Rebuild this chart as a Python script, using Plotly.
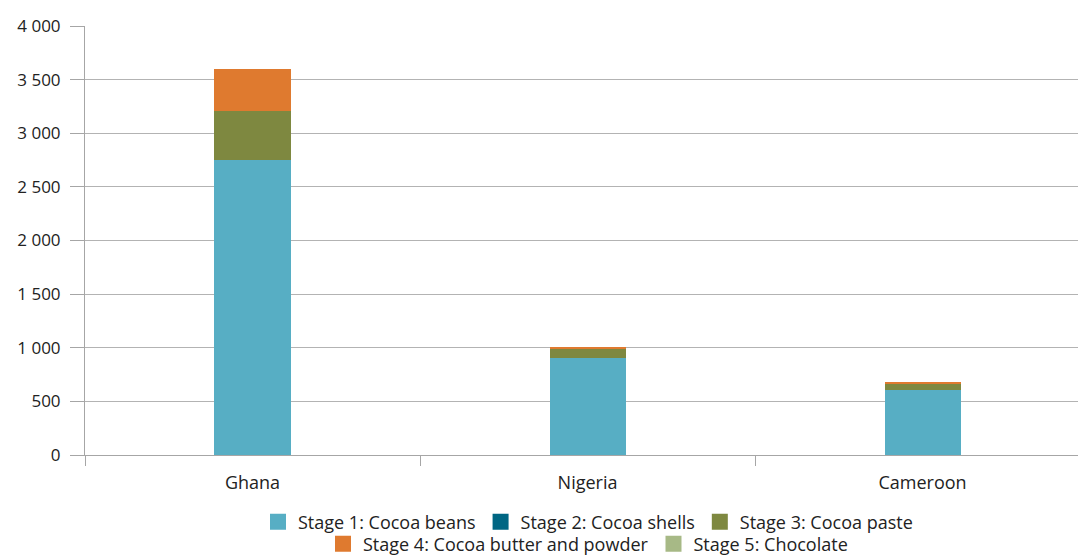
import plotly.graph_objects as go

countries = ["Ghana", "Nigeria", "Cameroon"]

stage1_beans = [2750, 905, 606]
stage2_shells = [0, 0, 0]
stage3_paste = [455, 85, 63]
stage4_butter = [395, 17, 5]
stage5_chocolate = [0, 0, 0]

y_ticks = [0, 500, 1000, 1500, 2000, 2500, 3000, 3500, 4000]

series = [
    ("Stage 1: Cocoa beans", stage1_beans, "#57AEC4", "legend"),
    ("Stage 2: Cocoa shells", stage2_shells, "#006683", "legend"),
    ("Stage 3: Cocoa paste", stage3_paste, "#7E8840", "legend"),
    ("Stage 4: Cocoa butter and powder", stage4_butter, "#DF7A2F", "legend2"),
    ("Stage 5: Chocolate", stage5_chocolate, "#A7B986", "legend2"),
]

fig = go.Figure()
for name, vals, color, leg in series:
    fig.add_trace(go.Bar(
        x=countries, y=vals, name=name,
        marker=dict(color=color, line=dict(width=0)),
        showlegend=False,
    ))
    # square legend key
    fig.add_trace(go.Scatter(
        x=[None], y=[None], mode="markers", name=name,
        marker=dict(symbol="square", size=16, color=color),
        legend=leg, showlegend=True,
    ))

font_family = "'Open Sans', sans-serif"
legend_common = dict(
    orientation="h", xanchor="center", yanchor="middle",
    xref="container", yref="container",
    font=dict(size=18, color="#222222", family=font_family),
    bgcolor="rgba(0,0,0,0)", itemclick=False, itemdoubleclick=False,
    tracegroupgap=0, traceorder="normal", itemwidth=30,
)

fig.update_layout(
    width=1078, height=558,
    margin=dict(l=85, r=0, t=26, b=103, autoexpand=False),
    barmode="stack",
    bargap=0.773,
    plot_bgcolor="white", paper_bgcolor="white",
    font=dict(family=font_family, size=18, color="#222222"),
    separators=". ",
    legend=dict(x=588 / 1078, y=1 - 522 / 558, **legend_common),
    legend2=dict(x=588 / 1078, y=1 - 544 / 558, **legend_common),
    xaxis=dict(
        range=[-0.5, 2.464],
        showline=True, linecolor="#A6A6A6", linewidth=1,
        ticks="outside", ticklen=10, tickcolor="#A6A6A6",
        tickson="boundaries", showgrid=False,
        tickfont=dict(size=18), ticklabelstandoff=11,
    ),
    yaxis=dict(
        range=[0, 4000], tickvals=y_ticks, tickformat=",d",
        showline=True, linecolor="#A6A6A6", linewidth=1,
        ticks="outside", ticklen=14, tickcolor="#A6A6A6",
        showgrid=True, gridcolor="#B3B3B3", gridwidth=1,
        zeroline=False, tickfont=dict(size=17), ticklabelstandoff=6,
    ),
)

fig.write_html("out.html")
